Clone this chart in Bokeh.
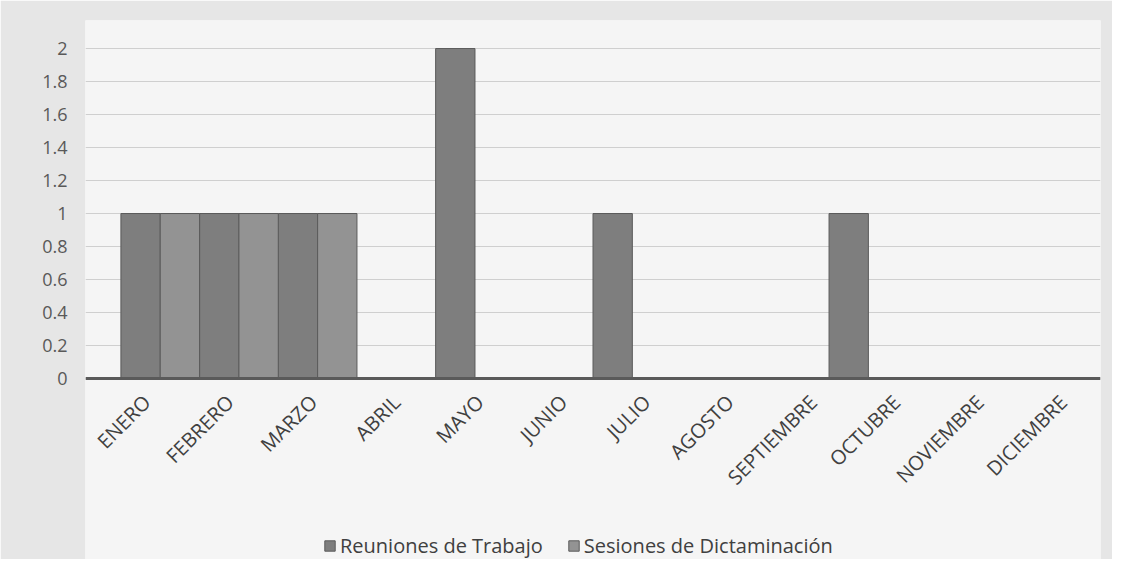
import math
from bokeh.plotting import figure
from bokeh.models import FactorRange, FixedTicker, Legend, LegendItem, ColumnDataSource, Span
from bokeh.core.properties import value
from bokeh.transform import dodge
from bokeh.embed import file_html
from bokeh.resources import INLINE

months = ["ENERO", "FEBRERO", "MARZO", "ABRIL", "MAYO", "JUNIO", "JULIO",
          "AGOSTO", "SEPTIEMBRE", "OCTUBRE", "NOVIEMBRE", "DICIEMBRE"]
reuniones = [1, 1, 1, 0, 2, 0, 1, 0, 0, 1, 0, 0]
sesiones = [1, 1, 1, 0, 0, 0, 0, 0, 0, 0, 0, 0]
series_names = ["Reuniones de Trabajo", "Sesiones de Dictaminación"]
y_ticks = [0, 0.2, 0.4, 0.6, 0.8, 1, 1.2, 1.4, 1.6, 1.8, 2]

src = ColumnDataSource(dict(month=months, reuniones=reuniones, sesiones=sesiones,
                            zero=[0] * len(months)))

FONT = "Open Sans"

p = figure(
    x_range=FactorRange(factors=months, range_padding=0.45, range_padding_units="absolute"),
    y_range=(-1.097, 2.17),
    width=1112, height=559,
    output_backend="svg", toolbar_location=None,
    min_border_left=85, min_border_right=12, min_border_top=20, min_border_bottom=0,
)
# front edge of the 3-D floor is a little wider than the back wall: labels use their own scale
p.extra_x_ranges = {"labels": FactorRange(factors=months, range_padding=0.09,
                                          range_padding_units="absolute")}
p.background_fill_color = "#f5f5f5"
p.border_fill_color = "#e6e6e6"
p.outline_line_color = None

r1 = p.vbar(x=dodge("month", -0.25, range=p.x_range), top="reuniones", width=0.5,
            source=src, fill_color="#7e7e7e", line_color="#5a5a5a", line_width=1)
r2 = p.vbar(x=dodge("month", 0.25, range=p.x_range), top="sesiones", width=0.5,
            source=src, fill_color="#939393", line_color="#5a5a5a", line_width=1)

# month labels along the floor
p.text(x="month", y="zero", text="month", source=src, x_range_name="labels",
       angle=math.pi / 4, text_align="right", text_baseline="middle",
       x_offset=12, y_offset=20,
       text_font=value(FONT), text_font_size="20px", text_color="#404040")

# floor line
p.add_layout(Span(location=0, dimension="width", line_color="#5a5a5a", line_width=3))

# axes
p.xaxis.visible = False
p.yaxis.ticker = FixedTicker(ticks=y_ticks)
p.yaxis.major_label_overrides = {0: "0", 1: "1", 2: "2"}
p.yaxis.axis_line_color = None
p.yaxis.major_tick_line_color = None
p.yaxis.minor_tick_line_color = None
p.yaxis.major_label_text_font = FONT
p.yaxis.major_label_text_font_size = "18px"
p.yaxis.major_label_text_color = "#595959"
p.yaxis.major_label_standoff = 12

p.xgrid.grid_line_color = None
p.ygrid.ticker = FixedTicker(ticks=y_ticks)
p.ygrid.grid_line_color = "#cfcfcf"
p.ygrid.grid_line_width = 1

legend = Legend(
    items=[LegendItem(label=series_names[0], renderers=[r1]),
           LegendItem(label=series_names[1], renderers=[r2])],
    orientation="horizontal",
    location=(238, 0),
    background_fill_alpha=0,
    border_line_color=None,
    label_text_font=FONT,
    label_text_font_size="20px",
    label_text_color="#404040",
    glyph_width=13, glyph_height=13,
    label_standoff=4, spacing=24, padding=2,
)
p.add_layout(legend, "center")

open("out.html", "w").write(file_html(p, INLINE))
